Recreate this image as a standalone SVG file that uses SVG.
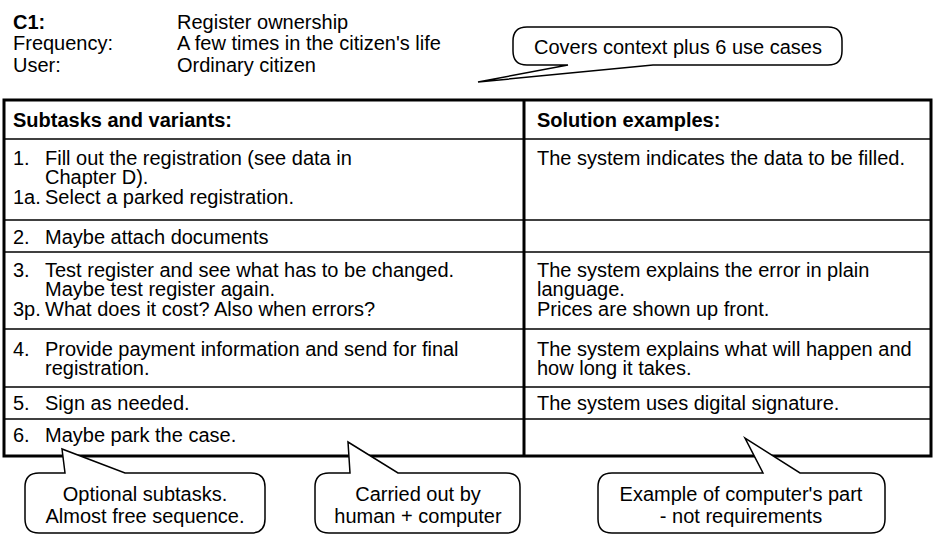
<svg xmlns="http://www.w3.org/2000/svg" width="934" height="534" viewBox="0 0 934 534">
  <style>
    text { font-family: "Liberation Sans", Arial, sans-serif; fill: #000; }
    .t { font-size: 20px; }
    .b { font-weight: bold; }
    .c { font-size: 20px; text-anchor: middle; }
    .grid { stroke: #000; stroke-width: 1.5; fill: none; }
    .frame { stroke: #000; stroke-width: 3; fill: none; }
    .bubble { fill: #fff; stroke: #000; stroke-width: 1.5; stroke-linejoin: miter; }
  </style>

  <!-- task heading -->
  <g id="heading">
    <text class="t b" x="13" y="29">C1:</text>
    <text class="t" x="177" y="29">Register ownership</text>
    <text class="t" x="13" y="50">Frequency:</text>
    <text class="t" x="177" y="50">A few times in the citizen's life</text>
    <text class="t" x="13" y="72">User:</text>
    <text class="t" x="177" y="72">Ordinary citizen</text>
  </g>

  <!-- task table -->
  <g id="table">
    <line class="grid" x1="4" y1="139" x2="931" y2="139" stroke-width="1"/>
    <line class="grid" x1="4" y1="220" x2="931" y2="220"/>
    <line class="grid" x1="4" y1="252" x2="931" y2="252"/>
    <line class="grid" x1="4" y1="329" x2="931" y2="329"/>
    <line class="grid" x1="4" y1="387" x2="931" y2="387"/>
    <line class="grid" x1="4" y1="419" x2="931" y2="419"/>
    <line class="frame" x1="524" y1="100" x2="524" y2="456"/>
    <rect class="frame" x="4" y="100" width="927" height="356"/>

    <text class="t b" x="13" y="127">Subtasks and variants:</text>
    <text class="t b" x="537" y="127">Solution examples:</text>

    <text class="t" x="13" y="165">1.</text>
    <text class="t" x="45" y="165">Fill out the registration (see data in</text>
    <text class="t" x="45" y="184">Chapter D).</text>
    <text class="t" x="13" y="204">1a.</text>
    <text class="t" x="45" y="204">Select a parked registration.</text>
    <text class="t" x="537" y="165">The system indicates the data to be filled.</text>

    <text class="t" x="13" y="244">2.</text>
    <text class="t" x="45" y="244">Maybe attach documents</text>

    <text class="t" x="13" y="277">3.</text>
    <text class="t" x="45" y="277">Test register and see what has to be changed.</text>
    <text class="t" x="45" y="296">Maybe test register again.</text>
    <text class="t" x="13" y="316">3p.</text>
    <text class="t" x="45" y="316">What does it cost? Also when errors?</text>
    <text class="t" x="537" y="277">The system explains the error in plain</text>
    <text class="t" x="537" y="296">language.</text>
    <text class="t" x="537" y="316">Prices are shown up front.</text>

    <text class="t" x="13" y="356">4.</text>
    <text class="t" x="45" y="356">Provide payment information and send for final</text>
    <text class="t" x="45" y="375">registration.</text>
    <text class="t" x="537" y="356">The system explains what will happen and</text>
    <text class="t" x="537" y="375">how long it takes.</text>

    <text class="t" x="13" y="410">5.</text>
    <text class="t" x="45" y="410">Sign as needed.</text>
    <text class="t" x="537" y="410">The system uses digital signature.</text>

    <text class="t" x="13" y="442">6.</text>
    <text class="t" x="45" y="442">Maybe park the case.</text>
  </g>

  <!-- speech bubbles -->
  <g id="note-scope">
    <path class="bubble" d="M527,27 L828,27 Q842,27 842,41 L842,51 Q842,65 828,65 L653,65 L478,82 L568,65 L527,65 Q513,65 513,51 L513,41 Q513,27 527,27 Z"/>
    <text class="c" x="678" y="54">Covers context plus 6 use cases</text>
  </g>

  <g id="note-optional">
    <path class="bubble" d="M39,473 L65,473 L62,449 L125,473 L251,473 Q265,473 265,487 L265,519 Q265,533 251,533 L39,533 Q25,533 25,519 L25,487 Q25,473 39,473 Z"/>
    <text class="c" x="145" y="501">Optional subtasks.</text>
    <text class="c" x="145" y="523">Almost free sequence.</text>
  </g>

  <g id="note-human">
    <path class="bubble" d="M329,473 L350,473 L348,442 L398,473 L506,473 Q520,473 520,487 L520,519 Q520,533 506,533 L329,533 Q315,533 315,519 L315,487 Q315,473 329,473 Z"/>
    <text class="c" x="418" y="501">Carried out by</text>
    <text class="c" x="418" y="523">human + computer</text>
  </g>

  <g id="note-computer">
    <path class="bubble" d="M612,473 L763,473 L745,438 L800,473 L871,473 Q885,473 885,487 L885,519 Q885,533 871,533 L612,533 Q598,533 598,519 L598,487 Q598,473 612,473 Z"/>
    <text class="c" x="741" y="501">Example of computer's part</text>
    <text class="c" x="741" y="523">- not requirements</text>
  </g>
</svg>
